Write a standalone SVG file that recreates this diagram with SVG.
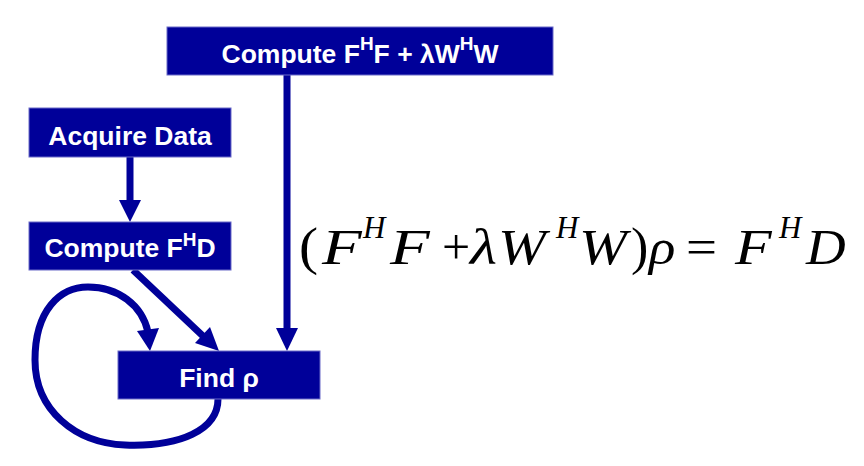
<svg xmlns="http://www.w3.org/2000/svg" width="864" height="466" viewBox="0 0 864 466">
<defs>
<style>
.box{fill:#000099;stroke:#6a6ac8;stroke-width:1}
.lbl{fill:#fff;font-family:"Liberation Sans",Arial,sans-serif;font-weight:bold;font-size:26.5px;text-anchor:middle}
.sup{font-size:19px}
.conn{fill:none;stroke:#000099;stroke-width:7}
.head{fill:#000099}
.eq{font-family:"Liberation Serif","Times New Roman",serif;font-size:50px;fill:#000}
.it{font-style:italic}
.es{font-style:italic;font-size:31px}
.pa{font-size:52px}
</style>
</defs>
<g id="connectors">
<path class="conn" d="M130,157 V202"/>
<polygon class="head" points="119,200 141,200 130,222"/>
<path class="conn" d="M287,75 V330"/>
<polygon class="head" points="276,328 298,328 287,351"/>
<path class="conn" d="M133,270 L204,337"/>
<polygon class="head" points="195,343 210,327 219,351"/>
<path class="conn" d="M218,399 C218,430 180,447 125,445 C75,443 35,410 35,360 C35,310 60,287 88,287 C118,287 142,305 148,332"/>
<polygon class="head" points="137,331 159,328 150,351"/>
</g>
<g id="node-top">
<rect class="box" x="167" y="27" width="386" height="48"/>
<text class="lbl" x="360" y="63">Compute F<tspan class="sup" dy="-13">H</tspan><tspan dy="13">F + λW</tspan><tspan class="sup" dy="-13">H</tspan><tspan dy="13">W</tspan></text>
</g>
<g id="node-acquire">
<rect class="box" x="29" y="108" width="202" height="49"/>
<text class="lbl" x="130" y="145">Acquire Data</text>
</g>
<g id="node-fhd">
<rect class="box" x="29" y="222" width="202" height="48"/>
<text class="lbl" x="130" y="257">Compute F<tspan class="sup" dy="-11">H</tspan><tspan dy="11">D</tspan></text>
</g>
<g id="node-find">
<rect class="box" x="118" y="351" width="202" height="48"/>
<text class="lbl" x="219" y="387">Find ρ</text>
</g>
<g id="equation" class="eq">
<text class="pa" transform="translate(299,264) scale(1.1,1)">(</text>
<text class="it" transform="translate(322,264) scale(1.3,1)">F</text>
<text class="es" transform="translate(363,238)">H</text>
<text class="it" transform="translate(390,264) scale(1.3,1)">F</text>
<text transform="translate(442,264)">+</text>
<text class="it" transform="translate(470,264) scale(1.25,1)">λ</text>
<text class="it" transform="translate(498,264) scale(1.15,1)">W</text>
<text class="es" transform="translate(556,238)">H</text>
<text class="it" transform="translate(579,264) scale(1.15,1)">W</text>
<text class="pa" transform="translate(631,264)">)</text>
<text class="it" transform="translate(649,264) scale(1.1,1)">ρ</text>
<text transform="translate(686,264) scale(1.1,1)">=</text>
<text class="it" transform="translate(735,264) scale(1.2,1)">F</text>
<text class="es" transform="translate(779,238)">H</text>
<text class="it" transform="translate(806,264) scale(1.1,1)">D</text>
</g>
</svg>
